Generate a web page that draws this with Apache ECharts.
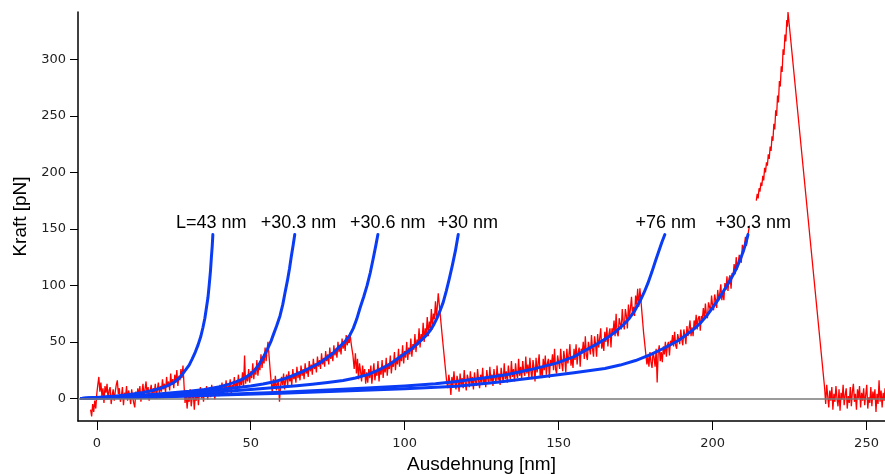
<!DOCTYPE html>
<html>
<head>
<meta charset="utf-8">
<script src="https://cdn.jsdelivr.net/npm/echarts@6/dist/echarts.min.js"></script>
<style>html,body{margin:0;padding:0;background:#fff}#c{width:885px;height:474px}</style>
</head>
<body>
<div id="c"></div>
<script>
// Axis ticks
var xTicks = [0, 50, 100, 150, 200, 250];
var yTicks = [0, 50, 100, 150, 200, 250, 300];

var traceA = [[-2,-10],[-1.67,-16],[-1.33,-5],[-1,-12],[-0.67,-2],[-0.33,-9],[0,4],[0.33,12],[0.67,19],[1,6],[1.33,14],[1.67,2],[2,9],[2.33,-4],[2.67,11],[3,5],[3.33,13],[3.67,-1],[4,7],[4.33,10],[4.67,-5],[5,3],[5.33,8],[5.67,-2],[6,6],[6.33,12],[6.67,16],[7,4],[7.33,9],[7.67,-3],[8,2],[8.33,10],[8.67,-6],[9,5],[9.33,1],[9.67,11],[10,-2],[10.33,7],[10.67,3],[11,-5],[11.33,8],[11.67,1],[12,-4],[12.33,-8],[12.67,6],[13,0],[13.33,9],[13.67,3],[14,11],[14.33,-3],[14.67,5],[15,13],[15.33,2],[15.67,8],[16,15],[16.33,4],[16.67,10],[17,-2],[17.33,7],[17.67,12],[18,1],[18.33,9],[18.67,5],[19,13],[19.33,0],[19.67,8],[20,14],[20.33,4],[20.67,11],[21,6],[21.33,17],[21.67,8],[22,13],[22.33,5],[22.67,19],[23,10],[23.33,15],[23.67,7],[24,22],[24.33,12],[24.67,17],[25,9],[25.33,21],[25.67,14],[26,25],[26.33,11],[26.67,20],[27,16],[27.33,26],[27.67,18],[28,29],[28.33,12]];
var traceB = [[28.67,-4],[29,6],[29.33,-9],[29.67,2],[30,-3],[30.33,8],[30.67,-7],[31,1],[31.33,5],[31.67,-10],[32,3],[32.33,-2],[32.67,7],[33,-6],[33.33,4],[33.67,10],[34,0],[34.33,6],[34.67,-3],[35,9],[35.33,2],[35.67,11],[36,-1],[36.33,5],[36.67,8],[37,1],[37.33,12],[37.67,3],[38,7],[38.33,-1],[38.67,10],[39,4],[39.33,9],[39.67,2],[40,12],[40.33,6],[40.67,14],[41,3],[41.33,10],[41.67,7],[42,16],[42.33,5],[42.67,11],[43,8],[43.33,17],[43.67,4],[44,12],[44.33,9],[44.67,19],[45,7],[45.33,14],[45.67,11],[46,21],[46.33,9],[46.67,16],[47,12],[47.33,23],[47.67,10],[48,38],[48.33,13],[48.67,20],[49,15],[49.33,26],[49.67,14],[50,24],[50.33,18],[50.67,31],[51,17],[51.33,27],[51.67,21],[52,34],[52.33,20],[52.67,30],[53,25],[53.33,39],[53.67,27],[54,36],[54.33,31],[54.67,45],[55,33],[55.33,43],[55.6,50],[56,36],[56.4,22]];
var traceC = [[56.67,14],[57,5],[57.33,17],[57.67,9],[58,20],[58.33,7],[58.67,13],[59,16],[59.33,-3],[59.67,10],[60,19],[60.33,12],[60.67,22],[61,8],[61.33,16],[61.67,21],[62,11],[62.33,24],[62.67,15],[63,19],[63.33,12],[63.67,26],[64,17],[64.33,22],[64.67,14],[65,28],[65.33,18],[65.67,24],[66,16],[66.33,29],[66.67,20],[67,26],[67.33,17],[67.67,31],[68,22],[68.33,27],[68.67,19],[69,33],[69.33,24],[69.67,30],[70,21],[70.33,35],[70.67,26],[71,31],[71.33,23],[71.67,37],[72,28],[72.33,34],[72.67,26],[73,40],[73.33,30],[73.67,36],[74,28],[74.33,42],[74.67,33],[75,39],[75.33,30],[75.67,45],[76,35],[76.33,41],[76.67,33],[77,47],[77.33,38],[77.67,44],[78,36],[78.33,50],[78.67,41],[79,47],[79.33,39],[79.67,53],[80,44],[80.33,50],[80.67,42],[81,56],[81.33,47],[81.67,53],[82,49],[82.2,58],[82.7,47],[83.2,38],[83.6,26],[84,40],[84.33,22],[84.67,35],[85,17],[85.33,31],[85.67,24],[86,15],[86.33,29],[86.67,19],[87,26],[87.33,13],[87.67,23]];
var traceD = [[88,14],[88.33,26],[88.67,18],[89,29],[89.33,13],[89.67,22],[90,31],[90.33,16],[90.67,25],[91,20],[91.33,33],[91.67,15],[92,27],[92.33,21],[92.67,34],[93,18],[93.33,29],[93.67,23],[94,36],[94.33,20],[94.67,31],[95,26],[95.33,38],[95.67,22],[96,33],[96.33,28],[96.67,41],[97,25],[97.33,36],[97.67,30],[98,44],[98.33,28],[98.67,39],[99,33],[99.33,47],[99.67,31],[100,42],[100.33,36],[100.67,50],[101,34],[101.33,45],[101.67,39],[102,53],[102.33,37],[102.67,48],[103,43],[103.33,57],[103.67,41],[104,52],[104.33,47],[104.67,62],[105,45],[105.33,57],[105.67,51],[106,67],[106.33,50],[106.67,62],[107,56],[107.33,72],[107.67,55],[108,68],[108.33,62],[108.67,79],[109,61],[109.33,75],[109.67,70],[110,86],[110.33,71],[110.67,84],[110.9,93],[112.2,55],[113.6,16]];
var traceE = [[114,9],[114.33,21],[114.67,14],[115,3],[115.33,19],[115.67,11],[116,24],[116.33,13],[116.67,8],[117,20],[117.33,15],[117.67,6],[118,22],[118.33,12],[118.67,18],[119,9],[119.33,25],[119.67,14],[120,7],[120.33,21],[120.67,17],[121,10],[121.33,24],[121.67,13],[122,19],[122.33,8],[122.67,23],[123,15],[123.33,11],[123.67,26],[124,16],[124.33,9],[124.67,21],[125,14],[125.33,27],[125.67,12],[126,18],[126.33,10],[126.67,25],[127,17],[127.33,13],[127.67,28],[128,15],[128.33,21],[128.67,11],[129,26],[129.33,18],[129.67,14],[130,29],[130.33,16],[130.67,22],[131,12],[131.33,27],[131.67,19],[132,15],[132.33,31],[132.67,17],[133,24],[133.33,14],[133.67,29],[134,21],[134.33,17],[134.67,33],[135,19],[135.33,26],[135.67,15],[136,31],[136.33,22],[136.67,18],[137,35],[137.33,20],[137.67,28],[138,17],[138.33,33],[138.67,24],[139,20],[139.33,37],[139.67,22],[140,30],[140.33,19],[140.67,36],[141,24],[141.33,17],[141.67,34],[142,27],[142.33,15],[142.67,36],[143,23],[143.33,30],[143.67,39],[144,20],[144.33,28],[144.67,18],[145,35],[145.33,25],[145.67,38],[146,21],[146.33,31],[146.67,35],[147,18],[147.33,34],[147.67,29],[148,39],[148.33,25],[148.67,44],[149,26],[149.33,22],[149.67,38],[150,37],[150.33,26],[150.67,44],[151,31],[151.33,24],[151.67,42],[152,35],[152.33,23],[152.67,44],[153,31],[153.33,38],[153.67,48],[154,29],[154.33,36],[154.67,27],[155,44],[155.33,34],[155.67,48],[156,30],[156.33,41],[156.67,45],[157,28],[157.33,44],[157.67,40],[158,50],[158.33,35],[158.67,55],[159,38],[159.33,34],[159.67,50],[160,49],[160.33,39],[160.67,56],[161,44],[161.33,37],[161.67,55],[162,48],[162.33,37],[162.67,57],[163,45],[163.33,53],[163.67,62],[164,44],[164.33,51],[164.67,42],[165,59],[165.33,50],[165.67,63],[166,46],[166.33,57],[166.67,62],[167,45],[167.33,62],[167.67,58],[168,69],[168.33,55],[168.67,75],[169,58],[169.33,55],[169.67,71],[170,71],[170.33,61],[170.67,79],[171,67],[171.33,61],[171.67,79],[172,73],[172.33,62],[172.67,83],[173,71],[173.33,80],[173.67,90],[174,73],[174.33,81],[174.67,73],[175,91],[175.33,83],[175.67,97],[176,81],[176.4,97.5],[177.6,58]];
var traceF = [[178.67,30],[179,37],[179.33,28],[179.67,41],[180,32],[180.33,27],[180.67,41],[181,36],[181.33,28],[181.67,44],[182,14],[182.33,40],[182.67,47],[183,33],[183.33,41],[183.67,32],[184,46],[184.33,39],[184.67,50],[185,37],[185.33,47],[185.67,50],[186,38],[186.33,51],[186.67,48],[187,56],[187.33,46],[187.67,59],[188,47],[188.33,44],[188.67,57],[189,57],[189.33,48],[189.67,61],[190,52],[190.33,47],[190.67,61],[191,56],[191.33,48],[191.67,64],[192,55],[192.33,61],[192.67,69],[193,55],[193.33,63],[193.67,55],[194,69],[194.33,63],[194.67,74],[195,61],[195.33,71],[195.67,73],[196,60],[196.33,73],[196.67,70],[197,80],[197.33,70],[197.67,84],[198,73],[198.33,71],[198.67,85],[199,85],[199.33,77],[199.67,91],[200,82],[200.33,78],[200.67,92],[201,87],[201.33,80],[201.67,96],[202,87],[202.33,93],[202.67,101],[203,87],[203.33,95],[203.67,87],[204,102],[204.33,96],[204.67,108],[205,95],[205.33,106],[205.67,109],[206,97],[206.33,111],[206.67,109],[207,119],[207.33,110],[207.67,125],[208,114],[208.33,113],[208.67,127],[209,128],[209.33,120],[209.67,136],[210,128],[210.33,127],[210.67,143],[211,135],[211.33,136],[211.67,148],[212,153]];
var traceG = [[214.2,175],[214.5,181],[214.8,177],[215.1,186],[215.4,183],[215.7,191],[216,188],[216.3,197],[216.6,193],[216.9,204],[217.2,200],[217.5,209],[217.8,206],[218.1,216],[218.4,212],[218.7,223],[219,219],[219.3,232],[219.6,228],[219.9,243],[220.2,238],[220.5,255],[220.8,250],[221.1,268],[221.4,262],[221.7,281],[222,276],[222.3,294],[222.6,289],[222.9,309],[223.2,304],[223.5,322],[223.8,316],[224.1,335],[224.3,329],[224.5,342]];
var traceH = [[236.4,9],[236.73,-5],[237.07,12],[237.4,2],[237.73,-8],[238.07,7],[238.4,-2],[238.73,10],[239.07,-10],[239.4,4],[239.73,-3],[240.07,11],[240.4,0],[240.73,-7],[241.07,8],[241.4,-11],[241.73,5],[242.07,-1],[242.4,12],[242.73,-6],[243.07,3],[243.4,9],[243.73,-9],[244.07,2],[244.4,-4],[244.73,10],[245.07,-7],[245.4,6],[245.73,13],[246.07,-3],[246.4,4],[246.73,-10],[247.07,8],[247.4,0],[247.73,11],[248.07,-8],[248.4,5],[248.73,-2],[249.07,9],[249.4,-6],[249.73,3],[250.07,12],[250.4,-9],[250.73,1],[251.07,-4],[251.4,10],[251.73,-7],[252.07,6],[252.4,-1],[252.73,8],[253.07,-12],[253.4,4],[253.73,-5],[254.07,16],[254.4,-3],[254.73,7],[255.07,-8],[255.4,5],[255.73,-2],[256,9]];

// WLC fit curves
var fit1 = [[-5,0],[0,0.8],[5,1.8],[10,3.3],[15,5.3],[18,7],[21,9.2],[23,11.3],[25,14],[27,18.5],[28.5,24],[30,29.5],[31,35],[32,41],[32.9,47.4],[33.8,55],[34.5,63],[35.1,71],[35.6,80],[36.1,89],[36.5,100],[36.9,112],[37.2,124],[37.5,135],[37.7,145]];
var fit2 = [[-5,0],[0,0.5],[10,1.8],[20,3.8],[30,6.3],[35,8],[40,10.3],[43,12.6],[46,15.5],[48,18],[50,21.5],[51.5,25.5],[53,31.5],[54.3,37.5],[55.5,44],[56.5,50],[57.3,56],[58.4,64],[59.5,73],[60.4,83],[61.1,93],[61.9,104],[62.6,115],[63.2,126],[63.8,136],[64.3,145]];
var fit3 = [[-5,0],[0,0.4],[10,1.5],[20,3],[30,5],[40,8],[45,9.4],[50,11],[54,12.7],[58,15],[61,17.5],[64,20.5],[67,24],[70,28],[72.5,31.5],[74.6,35.7],[76.7,40],[78.5,45],[80.5,50],[82.2,56],[83.3,62],[84.4,70],[85.5,80],[86.7,90],[87.8,100],[88.8,111],[89.8,124],[90.6,135],[91.3,145]];
var fit4 = [[-5,0],[0,0.4],[10,1.2],[20,2.5],[30,4],[40,5.8],[50,7.8],[60,10],[65,11.2],[70,12.5],[75,14],[80,15.8],[84,18],[88,21],[91,24.5],[95,30],[99.5,38.6],[101.8,43],[104,48],[105.6,52],[107.1,56],[108.4,60.5],[109.5,65.5],[110.5,71],[111.4,77],[112.5,85],[113.5,95],[114.5,106],[115.5,118],[116.5,131],[117.4,145]];
var fit5 = [[-5,0],[0,0.3],[20,1.5],[40,3.5],[60,5.5],[80,8],[100,11],[110,13],[116.8,15],[125,17.8],[133,21],[141,25.5],[149.3,31.2],[155,37],[160,44.5],[163,49],[166,54],[168.5,59],[171,65],[173,71],[174.8,78],[176.4,86],[177.8,94],[179,102],[180.3,112],[181.5,122],[182.5,130],[183.5,138],[184.5,145]];
var fit6 = [[-5,0],[0,0.3],[20,1.3],[40,3],[60,4.5],[80,6.5],[100,8.5],[117,10.8],[130,14.2],[144,19],[155,22.8],[165,26.5],[170,29.5],[175,33.5],[180,39],[185,45.5],[189,51.5],[191.5,56.3],[194,61.5],[196,66.5],[198.2,73.5],[200.2,81],[201.7,87],[203,92.5],[204.4,98.6],[205.6,104],[207,111],[208,116.5],[209,123],[210,130.5],[210.8,137.5],[211.5,145]];

// Fit labels
var labelTexts = ['L=43 nm', '+30.3 nm', '+30.6 nm', '+30 nm', '+76 nm', '+30.3 nm'];
var labelX = [37.2, 65.5, 94.5, 120.5, 184.8, 213.2];
var labelY = [155, 155, 155, 155, 155, 155];

var red = [].concat(traceA, traceB, traceC, traceD, traceE, traceF, [null], traceG, traceH);
var fits = [fit1, fit2, fit3, fit4, fit5, fit6];
var labelData = labelTexts.map(function (t, i) { return { value: [labelX[i], labelY[i]], name: t }; });

var tickFont = { fontFamily: 'DejaVu Sans', fontSize: 13, color: '#222' };
var chart = echarts.init(document.getElementById('c'), null, { renderer: 'canvas' });
var series = [{
  type: 'line', data: red, showSymbol: false, symbol: 'none', connectNulls: false,
  lineStyle: { color: '#ff0000', width: 1.3 }, z: 2, animation: false,
  markLine: { silent: true, symbol: 'none', label: { show: false },
    lineStyle: { color: '#7a7a7a', width: 1.5, type: 'solid' }, data: [{ yAxis: 0 }] }
}];
fits.forEach(function (f) {
  series.push({ type: 'line', data: f, showSymbol: false, symbol: 'none', smooth: false,
    lineStyle: { color: '#0a3cf5', width: 3, join: 'round', cap: 'round' }, z: 3, animation: false });
});
series.push({ type: 'scatter', data: labelData, symbolSize: 0, z: 5, animation: false, silent: true,
  itemStyle: { opacity: 1 },
  label: { show: true, position: 'inside', formatter: '{b}', fontFamily: 'Liberation Sans', fontSize: 18,
    color: '#000', opacity: 1, textBorderWidth: 0 } });

chart.setOption({
  animation: false,
  backgroundColor: '#fff',
  grid: { left: 78, right: 0, top: 12, bottom: 53, containLabel: false, outerBoundsMode: 'none' },
  xAxis: {
    type: 'value', min: -6.1, max: 256,
    name: 'Ausdehnung [nm]', nameLocation: 'middle', nameGap: 34,
    nameTextStyle: { fontFamily: 'Liberation Sans', fontSize: 19, color: '#000' },
    axisLine: { show: true, onZero: false, lineStyle: { color: '#000', width: 1.5 } },
    axisTick: { show: true, length: 9, customValues: xTicks, lineStyle: { color: '#000', width: 1 } },
    axisLabel: Object.assign({ margin: 16, customValues: xTicks }, tickFont),
    splitLine: { show: false }
  },
  yAxis: {
    type: 'value', min: -20, max: 342,
    name: 'Kraft [pN]', nameLocation: 'middle', nameGap: 47, nameRotate: 90,
    nameTextStyle: { fontFamily: 'Liberation Sans', fontSize: 19, color: '#000' },
    axisLine: { show: true, onZero: false, lineStyle: { color: '#000', width: 1.5 } },
    axisTick: { show: true, length: 8, customValues: yTicks, lineStyle: { color: '#000', width: 1 } },
    axisLabel: Object.assign({ margin: 12, customValues: yTicks }, tickFont),
    splitLine: { show: false }
  },
  series: series
});
</script>
</body>
</html>
